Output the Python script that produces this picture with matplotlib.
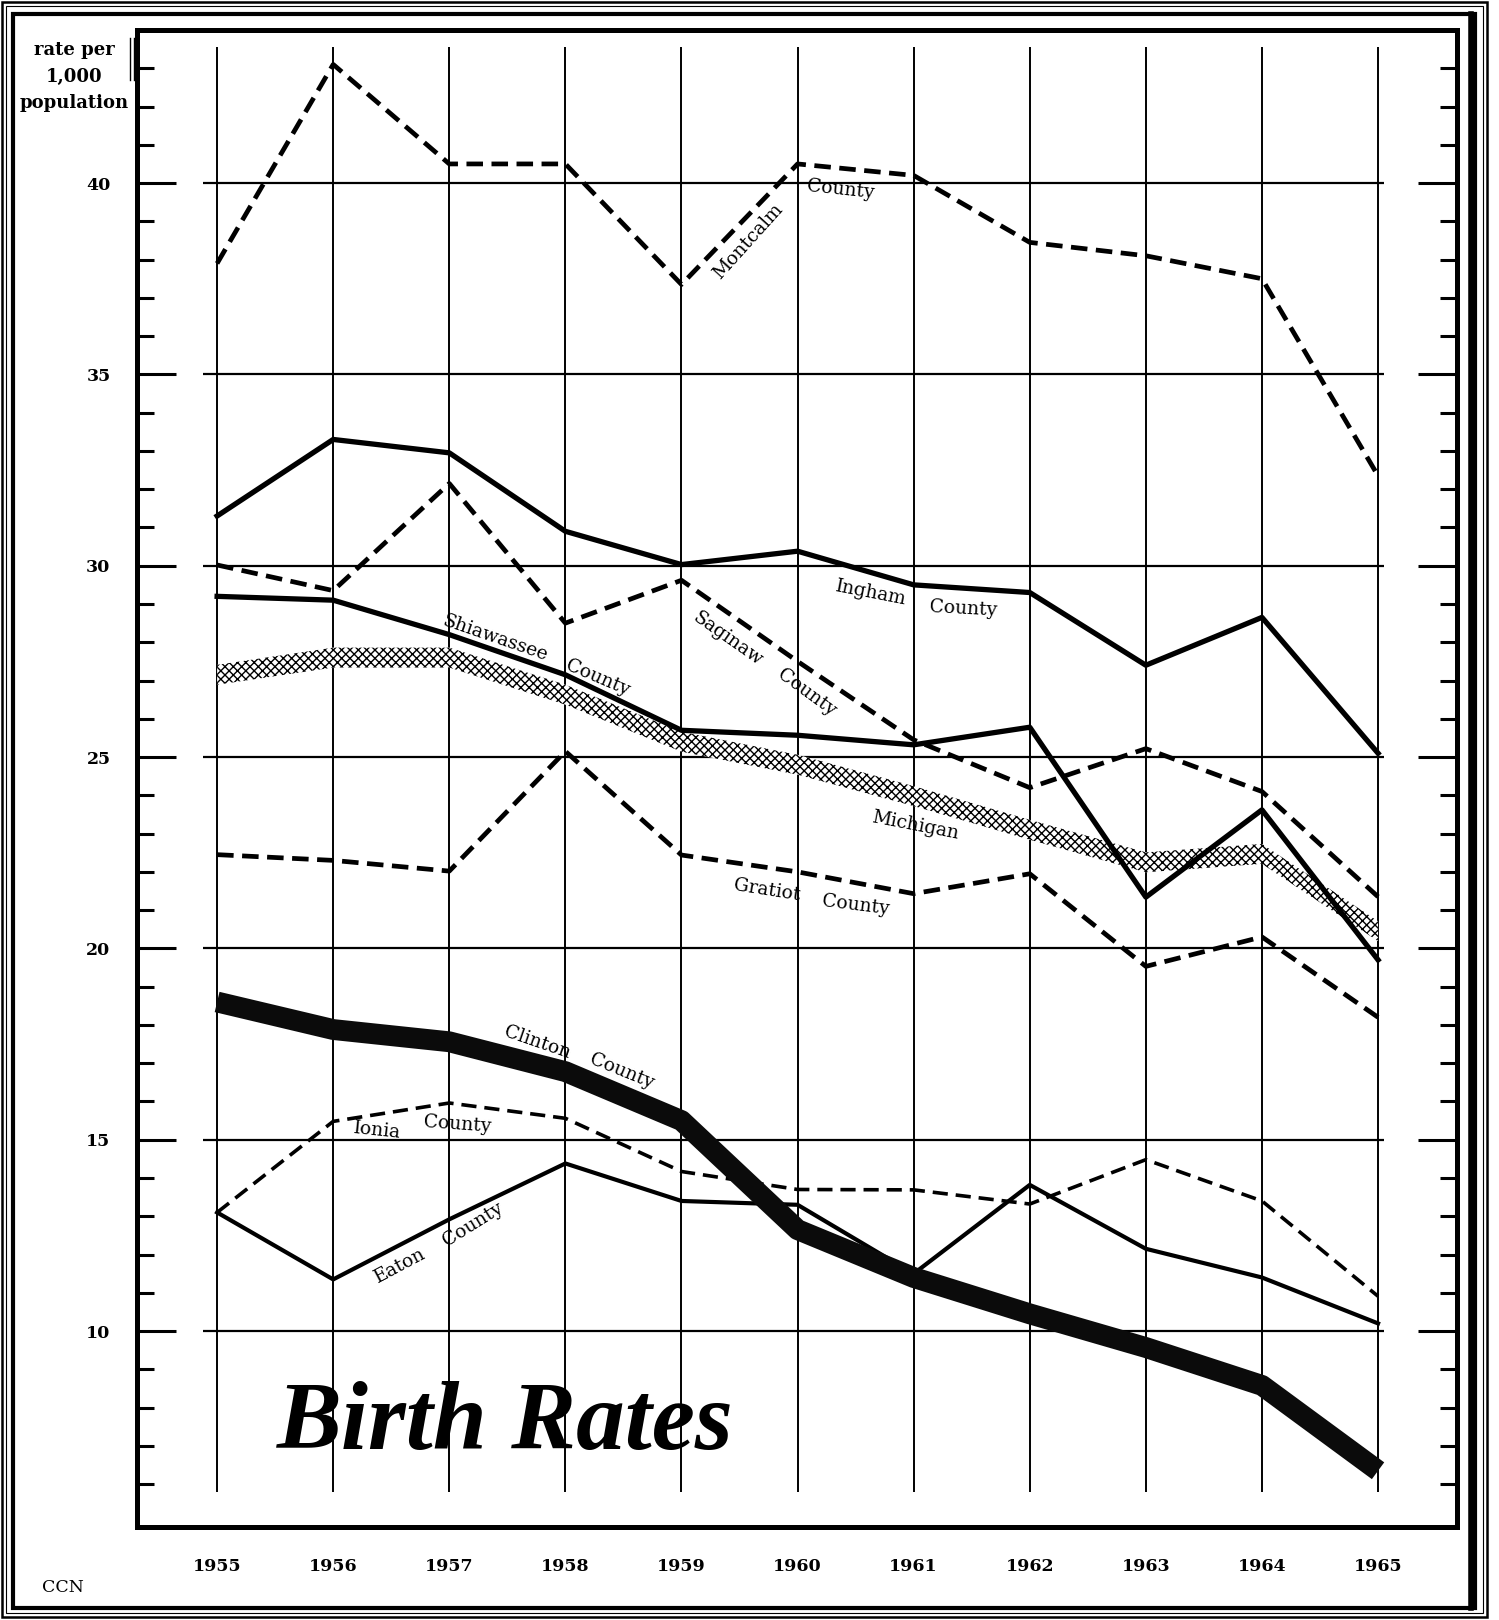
import numpy as np
import matplotlib.pyplot as plt
from matplotlib.patches import Rectangle
from matplotlib.lines import Line2D

W, H = 1499, 1620

plt.rcParams['font.family'] = ['DejaVu Serif']
plt.rcParams['hatch.color'] = 'black'
plt.rcParams['hatch.linewidth'] = 1.0

# data (births per 1,000 population)
years = np.arange(1955, 1966)
montcalm = [37.9, 43.1, 40.5, 40.5, 37.35, 40.5, 40.2, 38.45, 38.1, 37.5, 32.35]
ingham = [31.3, 33.3, 32.95, 30.9, 30.03, 30.38, 29.5, 29.3, 27.4, 28.65, 25.1]
saginaw = [30.02, 29.35, 32.15, 28.5, 29.62, 27.5, 25.45, 24.2, 25.22, 24.1, 21.35]
shiawassee = [29.2, 29.1, 28.2, 27.15, 25.7, 25.57, 25.32, 25.78, 21.34, 23.62, 19.7]
michigan = [27.15, 27.6, 27.6, 26.63, 25.4, 24.8, 23.98, 23.1, 22.25, 22.47, 20.45]
gratiot = [22.45, 22.3, 22.02, 25.15, 22.44, 22.0, 21.43, 21.95, 19.53, 20.3, 18.2]
clinton = [18.6, 17.88, 17.56, 16.78, 15.5, 12.65, 11.4, 10.45, 9.57, 8.58, 6.35]
ionia = [13.1, 15.48, 15.96, 15.56, 14.17, 13.7, 13.69, 13.32, 14.48, 13.4, 10.91]
eaton = [13.1, 11.35, 12.92, 14.38, 13.4, 13.3, 11.5, 13.82, 12.15, 11.4, 10.2]

ytick_major = [10, 15, 20, 25, 30, 35, 40]
ytick_minor = [v for v in range(6, 44) if v % 5 != 0]

# (text, x, y, rotation)
line_labels = [
    ('Montcalm', 1959.57, 38.48, 48),
    ('County', 1960.37, 39.84, -6),
    ('Ingham', 1960.63, 29.30, -11),
    ('County', 1961.43, 28.88, -3),
    ('Shiawassee', 1957.39, 28.10, -19),
    ('County', 1958.28, 27.08, -23),
    ('Saginaw', 1959.40, 28.10, -35),
    ('County', 1960.08, 26.68, -36),
    ('Michigan', 1961.01, 23.20, -11),
    ('Gratiot', 1959.74, 21.52, -9),
    ('County', 1960.50, 21.13, -7),
    ('Clinton', 1957.76, 17.55, -19),
    ('County', 1958.49, 16.80, -22),
    ('Ionia', 1956.38, 15.24, -6),
    ('County', 1957.07, 15.39, -4),
    ('Eaton', 1956.58, 11.71, 28),
    ('County', 1957.20, 12.78, 32),
]


def fx(px):
    return px / W


def fy(py):
    return 1 - py / H


fig = plt.figure(figsize=(W / 100, H / 100), dpi=100)
ax = fig.add_axes([fx(137), fy(1527), (1457 - 137) / W, (1527 - 30) / H])
ax.set_xlim(1954.31, 1965.68)
ax.set_ylim(4.88, 44.0)

for s in ax.spines.values():
    s.set_linewidth(3.6)

# grid
ax.hlines(ytick_major, 1954.88, 1965.05, color='black', lw=1.6, zorder=1)
ax.vlines(years, 5.8, 43.55, color='black', lw=1.4, zorder=1)

# Michigan: dotted band
m = np.array(michigan)
ax.fill_between(years, m - 0.26, m + 0.26, facecolor='white', edgecolor='black',
                hatch='xxxx', linewidth=0, zorder=2)

dash = dict(color='black', solid_capstyle='butt', dash_capstyle='butt', zorder=3)
ax.plot(years, montcalm, lw=3.4, dashes=(3.5, 1.8), **dash)
ax.plot(years, saginaw, lw=3.4, dashes=(3.5, 1.8), **dash)
ax.plot(years, gratiot, lw=3.4, dashes=(3.5, 1.8), **dash)
ax.plot(years, ionia, lw=2.6, dashes=(4.2, 2.2), **dash)

ax.plot(years, ingham, lw=3.8, color='black', solid_joinstyle='round', zorder=3)
ax.plot(years, shiawassee, lw=3.8, color='black', solid_joinstyle='round', zorder=3)
ax.plot(years, eaton, lw=3.0, color='black', solid_joinstyle='round', zorder=3)

# Clinton: heavy band
ax.plot(years, clinton, lw=15, color='#0b0b0b', solid_joinstyle='round',
        solid_capstyle='butt', zorder=4)

for txt, x, y, rot in line_labels:
    ax.text(x, y, txt, rotation=rot, ha='center', va='center', fontsize=13.5,
            rotation_mode='anchor', zorder=5)

# ticks
ax.set_yticks(ytick_major, labels=[str(v) for v in ytick_major], fontweight='bold')
ax.set_yticks(ytick_minor, minor=True)
ax.tick_params(axis='y', which='major', direction='in', length=28, width=2.2,
               left=True, right=True, labelleft=True, labelright=False,
               pad=19, labelsize=12.5)
ax.tick_params(axis='y', which='minor', direction='in', length=12, width=2.2,
               left=True, right=True)
ax.set_xticks(years, labels=[str(y) for y in years], fontweight='bold')
ax.tick_params(axis='x', length=0, pad=22, labelsize=12.5)

# title inside the plot
fig.text(fx(277), fy(1449), 'Birth Rates', family='Liberation Serif',
         fontweight='bold', fontstyle='italic', fontsize=70, va='baseline')

# axis caption
for txt, py in [('rate per', 50), ('1,000', 77), ('population', 103)]:
    fig.text(fx(74), fy(py), txt, ha='center', va='center', fontsize=13,
             fontweight='bold')
fig.add_artist(Line2D([fx(130), fx(130)], [fy(38), fy(80)], color='black', lw=1.0))
fig.add_artist(Line2D([fx(133.5), fx(133.5)], [fy(38), fy(80)], color='black', lw=1.0))

fig.text(fx(63), fy(1587), 'CCN', ha='center', va='center', fontsize=12.5)

# outer frame
for x0, y0, x1, y1, lw in [(2, 2, 1487, 1617, 1.8), (6, 6, 1483, 1613, 0.8),
                           (13, 14, 1475, 1608, 3.0)]:
    fig.add_artist(Rectangle((fx(x0), fy(y1)), fx(x1) - fx(x0), fy(y0) - fy(y1),
                             fill=False, edgecolor='black', lw=lw,
                             transform=fig.transFigure))
fig.add_artist(Line2D([fx(1471), fx(1471)], [fy(14), fy(1608)], color='black', lw=4))

fig.savefig('out.png', dpi=100)
